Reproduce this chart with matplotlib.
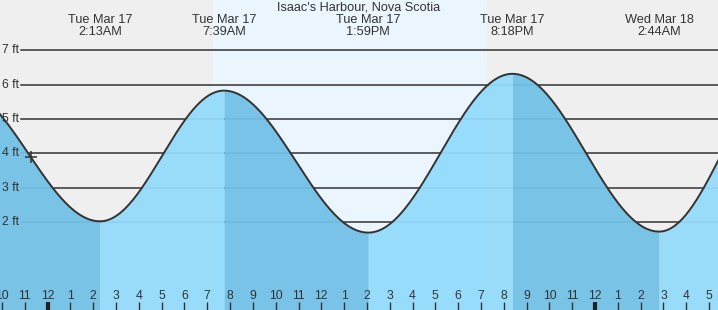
import numpy as np
import matplotlib
matplotlib.use('Agg')
import matplotlib.pyplot as plt

# tide extremes, hours from Tue Mar 17 00:00 (first and last lie outside the view)
tide_hours = [-4.03, 2.22, 7.65, 13.98, 20.30, 26.73, 32.33]
tide_feet = [5.94, 2.02, 5.83, 1.69, 6.32, 1.72, 6.42]
event_days = ['Tue Mar 17', 'Tue Mar 17', 'Tue Mar 17', 'Tue Mar 17', 'Wed Mar 18']
event_times = ['2:13AM', '7:39AM', '1:59PM', '8:18PM', '2:44AM']
sunrise, sunset = 7.17, 19.18
now_hour = -0.81
ft_levels = [2, 3, 4, 5, 6, 7]
title = "Isaac's Harbour, Nova Scotia"

x_min, x_max = -2.166, 29.31
y_min, y_max = -0.566, 8.472
tick_shift = -0.08

night_bg = '#efefef'
day_bg = '#eaf5fe'
falling_c = '#72c1e6'
rising_c = '#94dbfb'
ink = '#333333'
font = ['Liberation Sans', 'DejaVu Sans']


def tide_curve(t):
    # cosine between neighbouring extremes
    out = np.empty_like(t)
    for i in range(len(tide_hours) - 1):
        t0, t1 = tide_hours[i], tide_hours[i + 1]
        h0, h1 = tide_feet[i], tide_feet[i + 1]
        m = (t >= t0) & (t <= t1)
        ph = (t[m] - t0) / (t1 - t0)
        out[m] = h1 + (h0 - h1) * (1 + np.cos(np.pi * ph)) / 2
    return out


fig = plt.figure(figsize=(7.18, 3.10), dpi=100)
ax = fig.add_axes([0, 0, 1, 1])
ax.set_xlim(x_min, x_max)
ax.set_ylim(y_min, y_max)
ax.axis('off')

ax.axvspan(x_min - 1, x_max + 1, color=night_bg, lw=0, zorder=0)
ax.axvspan(sunrise, sunset, color=day_bg, lw=0, zorder=0)

for lv in ft_levels:
    ax.axhline(lv, xmin=21 / 718, xmax=1, color=ink, lw=1.1, zorder=1)
    ax.text(2 / 718, lv, f'{lv} ft', transform=ax.get_yaxis_transform(),
            ha='left', va='center', fontsize=8.7, color=ink, family=font, zorder=4)

t = np.linspace(x_min - 0.3, x_max + 0.3, 2200)
h = tide_curve(t)
for i in range(len(tide_hours) - 1):
    t0, t1 = tide_hours[i], tide_hours[i + 1]
    m = (t >= t0) & (t <= t1)
    if not m.any():
        continue
    c = falling_c if tide_feet[i] > tide_feet[i + 1] else rising_c
    tt = np.concatenate([[max(t0, t[0])], t[m], [min(t1, t[-1])]])
    ax.fill_between(tt, y_min - 1, tide_curve(tt), color=c, alpha=0.95, lw=0, zorder=2)

ax.plot(t, h, color=ink, lw=1.4, zorder=3)
ax.plot([now_hour], tide_curve(np.array([now_hour])), marker='+', ms=9, mew=1.1,
        color=ink, zorder=4)

# hour ticks along the bottom
tr = ax.get_xaxis_transform()
for hr in range(int(np.ceil(x_min)), int(np.floor(x_max)) + 1):
    xp = hr + tick_shift
    lab = str((hr % 12) or 12)
    ax.text(xp, 1 - 296 / 310, lab, transform=tr, ha='center', va='center',
            fontsize=8.7, color=ink, family=font, zorder=5)
    if hr % 24 == 0:
        ax.vlines(xp, 0, 1 - 302 / 310, transform=tr, color='#222222', lw=3, zorder=5)
    else:
        ax.vlines(xp, 0, 1 - 302 / 310, transform=tr, color=ink, lw=1, zorder=5)

# event labels
for hr, d, tm in zip(tide_hours[1:-1], event_days, event_times):
    ax.text(hr, 1 - 20 / 310, d, transform=tr, ha='center', va='center',
            fontsize=9.2, color=ink, family=font, zorder=5)
    ax.text(hr, 1 - 32 / 310, tm, transform=tr, ha='center', va='center',
            fontsize=9.2, color=ink, family=font, zorder=5)

ax.text(0.5, 1 - 8 / 310, title, transform=ax.transAxes, ha='center', va='center',
        fontsize=9.2, color=ink, family=font, zorder=5)

fig.savefig('out.png', dpi=100)
